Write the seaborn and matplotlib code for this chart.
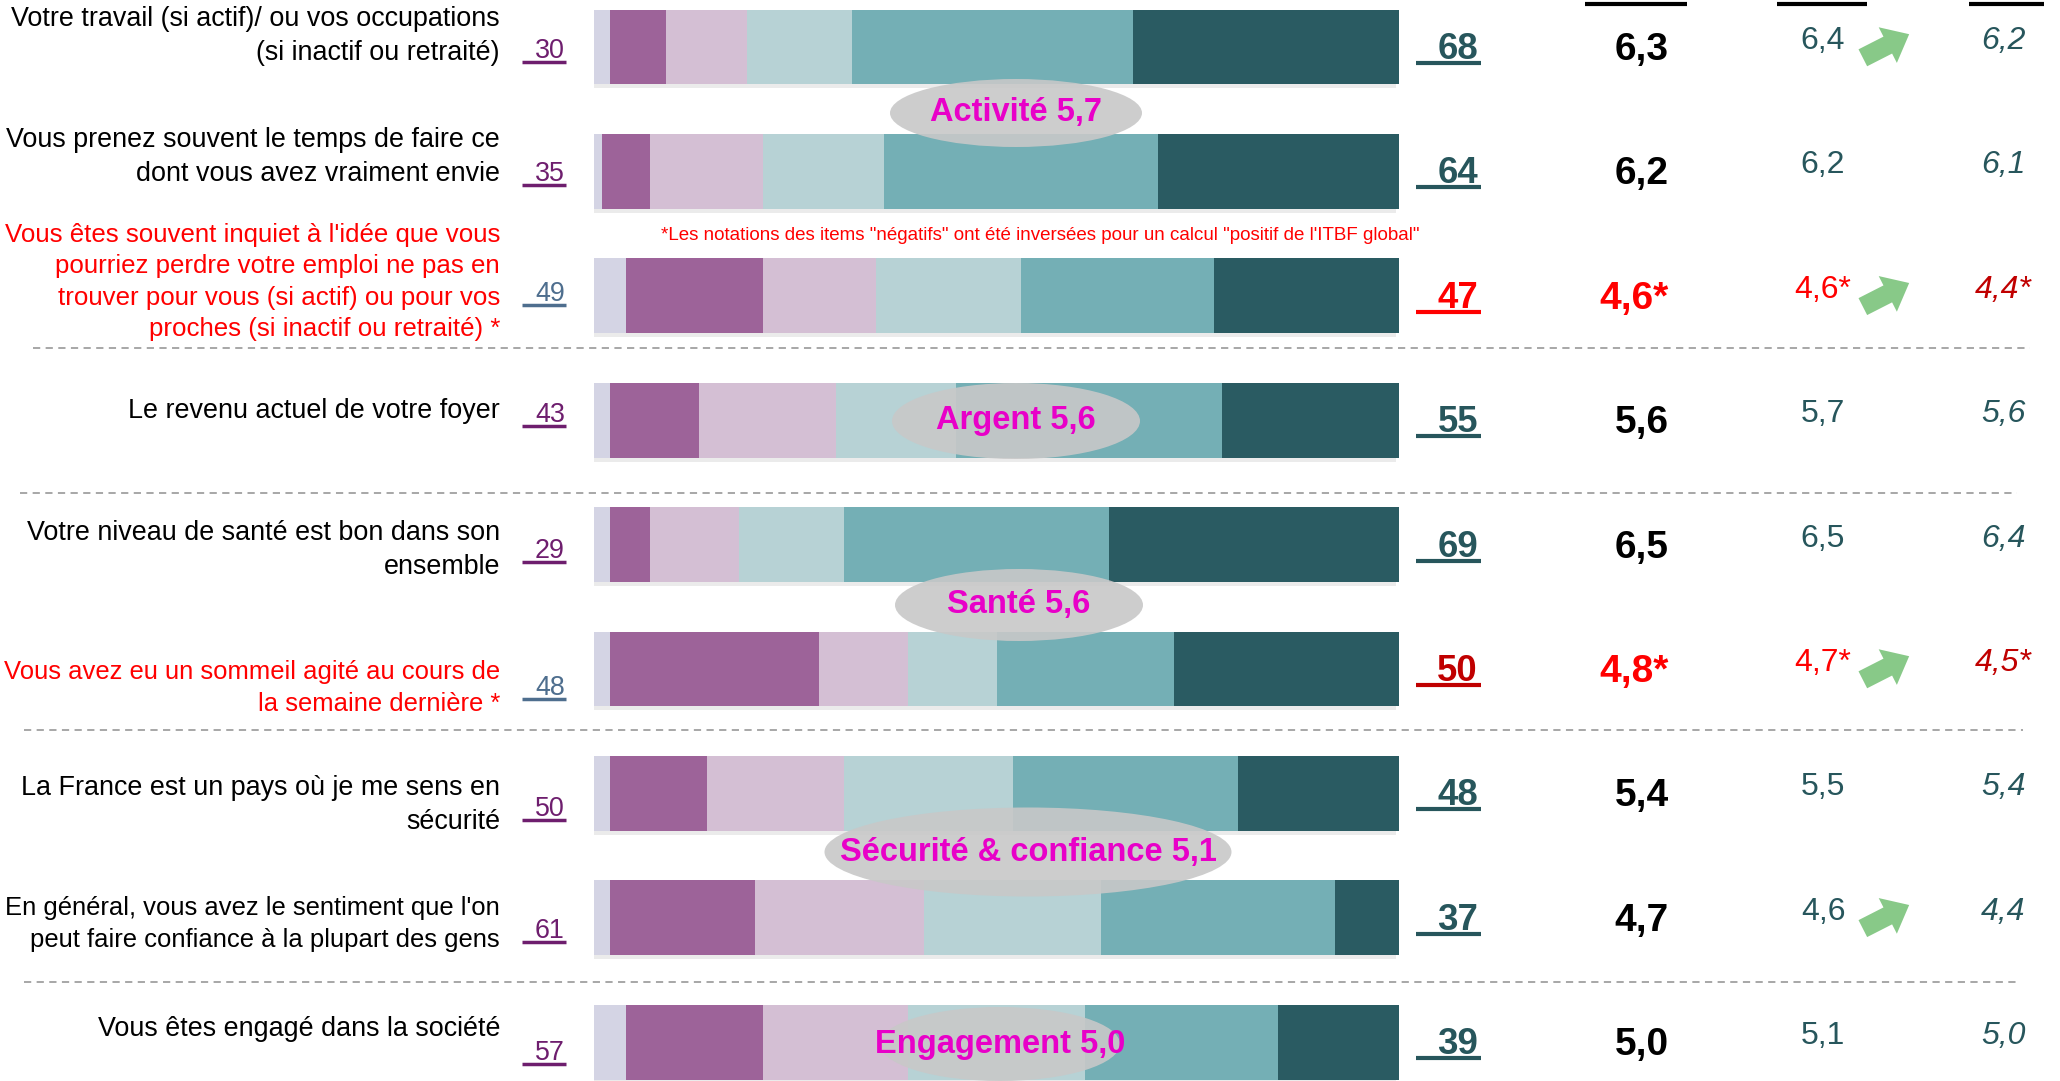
import numpy as np
import pandas as pd
import seaborn as sns
import matplotlib.pyplot as plt
from matplotlib import font_manager
from matplotlib.patches import Ellipse, FancyArrow
import matplotlib.patheffects as pe

# --- data ---
items = [
    "Votre travail (si actif)/ ou vos occupations\n(si inactif ou retraité)",
    "Vous prenez souvent le temps de faire ce\ndont vous avez vraiment envie",
    "Vous êtes souvent inquiet à l'idée que vous\npourriez perdre votre emploi ne pas en\n"
    "trouver pour vous (si actif) ou pour vos\nproches (si inactif ou retraité) *",
    "Le revenu actuel de votre foyer",
    "Votre niveau de santé est bon dans son\nensemble",
    "Vous avez eu un sommeil agité au cours de\nla semaine dernière *",
    "La France est un pays où je me sens en\nsécurité",
    "En général, vous avez le sentiment que l'on\npeut faire confiance à la plupart des gens",
    "Vous êtes engagé dans la société",
]
negatif = [False, False, True, False, False, True, False, False, False]

# share of answers per block of the scale (%)
nsp = [2, 1, 4, 2, 2, 2, 2, 2, 4]
bas = [7, 6, 17, 11, 5, 26, 12, 18, 17]
moyen_bas = [10, 14, 14, 17, 11, 11, 17, 21, 18]
moyen = [13, 15, 18, 15, 13, 11, 21, 22, 22]
haut = [35, 34, 24, 33, 33, 22, 28, 29, 24]
tres_haut = [33, 30, 23, 22, 36, 28, 20, 8, 15]

total_bas = [30, 35, 49, 43, 29, 48, 50, 61, 57]
total_haut = [68, 64, 47, 55, 69, 50, 48, 37, 39]

vague3 = [6.3, 6.2, 4.6, 5.6, 6.5, 4.8, 5.4, 4.7, 5.0]
vague2 = [6.4, 6.2, 4.6, 5.7, 6.5, 4.7, 5.5, 4.6, 5.1]
vague1 = [6.2, 6.1, 4.4, 5.6, 6.4, 4.5, 5.4, 4.4, 5.0]
hausse = [True, False, True, False, False, True, False, True, False]

dimensions = ["Activité", "Argent", "Santé", "Sécurité & confiance", "Engagement"]
dim_scores = [5.7, 5.6, 5.6, 5.1, 5.0]

# --- layout (pixels, figure 2060 x 1081) ---
row0, pitch = 47, 124.4
label_y = [36, 157, 282, 411, 550, 688, 805, 924, 1029]
left_num_y = [62, 185, 305, 426, 562, 699, 820, 942, 1064]
dim_pos = [(1016, 113, 252, 68), (1016, 421, 248, 76), (1019, 605, 248, 72),
           (1028, 852, 407, 89), (1000, 1044, 240, 74)]
separators = [(33, 2030, 348), (20, 2017, 493), (24, 2023, 730), (24, 2017, 982)]
header_lines = [(1585, 1687), (1777, 1867), (1969, 2044)]

seg_colors = ["#d4d4e4", "#9d6399", "#d4bfd4", "#b7d2d5", "#74afb5", "#2a5b62"]
teal_txt = "#27565c"
purple_txt = "#6e1e6e"
slate_txt = "#4e6e8e"
red = "#ff0000"
dark_red = "#c00000"
magenta = "#e800c8"

available = {f.name for f in font_manager.fontManager.ttflist}
narrow = "Liberation Sans Narrow" if "Liberation Sans Narrow" in available else "Liberation Sans"
scale = 1.0 if narrow == "Liberation Sans Narrow" else 0.88

sns.set_theme(style="white")
plt.rcParams["font.family"] = [narrow, "DejaVu Sans"]


def fr(v, star=False):
    return f"{v:.1f}".replace(".", ",") + ("*" if star else "")


df = pd.DataFrame({"item": items, "nsp": nsp, "bas": bas, "moyen_bas": moyen_bas,
                   "moyen": moyen, "haut": haut, "tres_haut": tres_haut})
segs = ["nsp", "bas", "moyen_bas", "moyen", "haut", "tres_haut"]
cum = df[segs].cumsum(axis=1)

fig = plt.figure(figsize=(20.6, 10.81), dpi=100)
ax = fig.add_axes([594 / 2060, 0, 805 / 2060, 1])

# stacked bars: draw cumulative totals from the longest down
for k in range(len(segs) - 1, -1, -1):
    sns.barplot(x=cum[segs[k]], y=df["item"], orient="h", color=seg_colors[k],
                saturation=1, width=0.6, ax=ax, linewidth=0)
shadow = [pe.SimplePatchShadow(offset=(-2, -3), shadow_rgbFace="#000000", alpha=0.08), pe.Normal()]
for p in ax.patches[:len(items)]:
    p.set_path_effects(shadow)
ax.set_xlim(0, 100)
ax.set_ylim((1081 - row0) / pitch, -row0 / pitch)
ax.axis("off")

# overlay in pixel coordinates for the text columns
ov = fig.add_axes([0, 0, 1, 1])
ov.set_xlim(0, 2060)
ov.set_ylim(1081, 0)
ov.axis("off")
ov.patch.set_alpha(0)

for x0, x1, y in separators:
    ov.hlines(y, x0, x1, colors="#a0a0a0", linestyles=(0, (4, 3)), lw=1.3)

# underlines of the column headers (headers themselves are above the crop)
for xa, xb in header_lines:
    ov.hlines(4, xa, xb, colors="black", lw=3)

renderer = fig.canvas.get_renderer()
for i in range(len(items)):
    yc = row0 + pitch * i
    neg = negatif[i]
    lab = ov.text(500, label_y[i], items[i], ha="right", va="center", fontsize=22 * scale,
                  color=red if neg else "black", linespacing=1.38, multialignment="right")
    bb = lab.get_window_extent(renderer)
    if bb.x0 < 3:
        lab.set_fontsize(22 * scale * (500 - 3) / bb.width)

    c = slate_txt if neg else purple_txt
    ov.text(565, left_num_y[i] - 4, str(total_bas[i]), ha="right", va="baseline",
            fontsize=22 * scale, color=c)
    ov.hlines(left_num_y[i], 522, 566, colors=c, lw=2.5)

    c = (dark_red if i == 5 else red) if neg else teal_txt
    ov.text(1478, yc + 12, str(total_haut[i]), ha="right", va="baseline",
            fontsize=30 * scale, fontweight="bold", color=c)
    ov.hlines(yc + 16, 1416, 1481, colors=c, lw=3)

    ov.text(1669, yc + 3, fr(vague3[i], neg), ha="right", va="center", fontsize=28,
            fontweight="bold", color=red if neg else "black", family=["Liberation Sans"])
    ov.text(1823, yc - 6, fr(vague2[i], neg), ha="center", va="center", fontsize=23,
            color=red if neg else teal_txt)
    ov.text(2003, yc - 6, fr(vague1[i], neg), ha="center", va="center", fontsize=23,
            style="italic", color=dark_red if neg else teal_txt)

    if hausse[i]:
        ang = np.deg2rad(27)
        L = 52
        cx, cy = 1886, yc - 1
        ov.add_patch(FancyArrow(cx - L / 2 * np.cos(ang), cy + L / 2 * np.sin(ang),
                                L * np.cos(ang), -L * np.sin(ang), width=19,
                                head_width=40, head_length=24, length_includes_head=True,
                                color="#88c988", lw=0))

ov.text(1040, 236, "*Les notations des items \"négatifs\" ont été inversées pour un calcul "
        "\"positif de l'ITBF global\"", ha="center", va="center", fontsize=13.5, color=red)

for name, score, (x, y, w, h) in zip(dimensions, dim_scores, dim_pos):
    ov.add_patch(Ellipse((x, y), w, h, facecolor="#c8c8c8", edgecolor="none", alpha=0.9))
    ov.text(x, y, f"{name} {fr(score)}", ha="center", va="center", fontsize=23.5,
            fontweight="bold", color=magenta)

fig.savefig("out.png", dpi=100)
